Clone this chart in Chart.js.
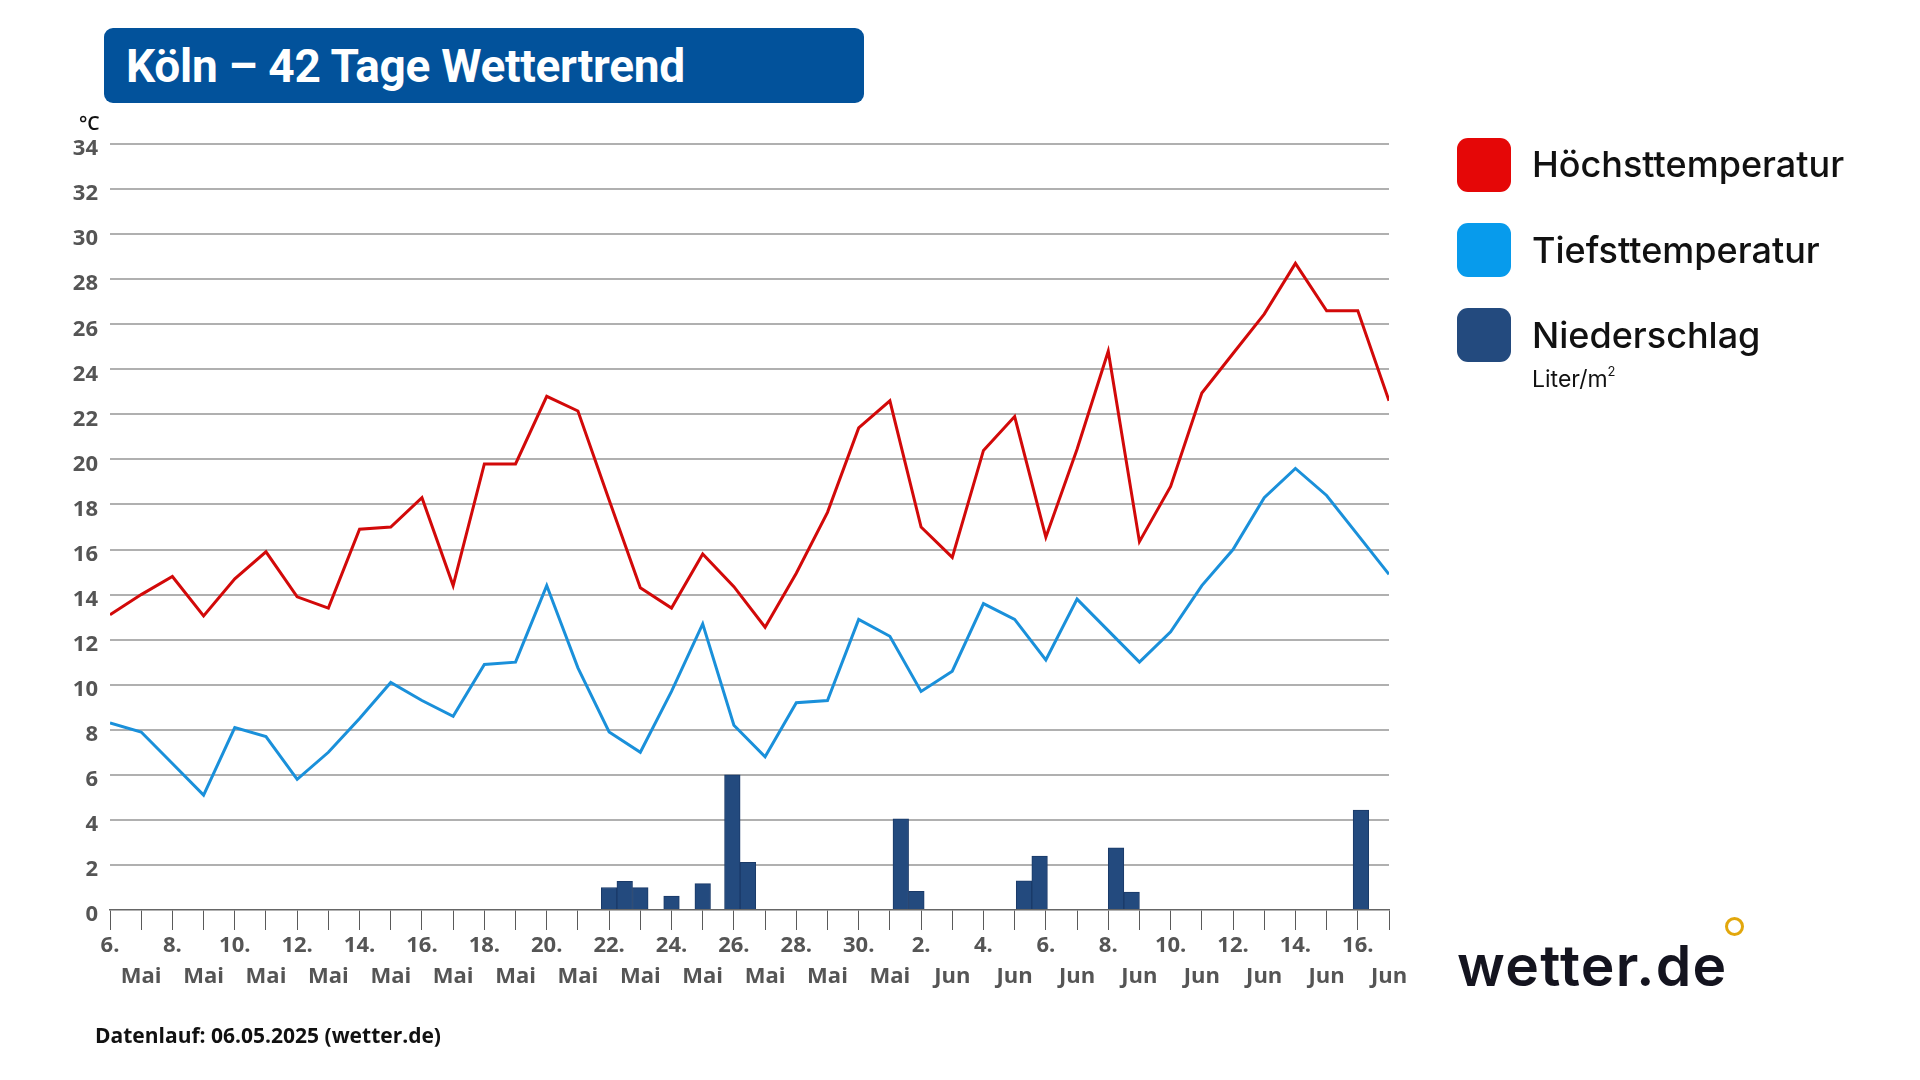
<!DOCTYPE html>
<html><head><meta charset="utf-8">
<script src="https://cdn.jsdelivr.net/npm/chart.js@4.4.1/dist/chart.umd.min.js"></script>
<style>
html,body{margin:0;padding:0;background:#fff;}
#wrap{position:relative;width:1920px;height:1080px;overflow:hidden;background:#fff;}
#c{position:absolute;left:0;top:0;}
.abs{position:absolute;white-space:nowrap;}
#titlebox{left:104px;top:28px;width:760px;height:75px;background:#02529b;border-radius:9px;}
#title{left:126px;top:43px;font:700 46px/46px Roboto,sans-serif;color:#fff;letter-spacing:-0.3px;}
#unit{left:79px;top:113px;font:600 19.5px/19.5px "Open Sans",sans-serif;color:#111;}
.sq{position:absolute;left:1457px;width:54px;height:54px;border-radius:11px;}
.lg{position:absolute;left:1532px;font:500 36px/36px Inter,sans-serif;color:#111;}
#liter{left:1532px;top:362px;font:400 23px/23px Inter,sans-serif;color:#111;}
#liter sup{font-size:13px;position:relative;top:-2px;}
#logo{left:1457px;top:937px;font:600 57px/58px Inter,sans-serif;color:#14141f;letter-spacing:1.3px;}
#ring{left:1725px;top:917px;width:13px;height:13px;border:3.5px solid #e2a70c;border-radius:50%;}
#foot{left:95px;top:1025px;font:700 21px/21px "Open Sans",sans-serif;color:#111;}
</style></head><body>
<div id="wrap">
<canvas id="c" width="1920" height="1080"></canvas>
<div id="titlebox" class="abs"></div>
<div id="title" class="abs">Köln – 42 Tage Wettertrend</div>
<div id="unit" class="abs">°C</div>
<div class="sq" style="top:138px;background:#e50707;"></div>
<div class="sq" style="top:223px;background:#079bec;"></div>
<div class="sq" style="top:308px;background:#234a7e;"></div>
<div class="lg" style="top:146px;">Höchsttemperatur</div>
<div class="lg" style="top:232px;">Tiefsttemperatur</div>
<div class="lg" style="top:317px;">Niederschlag</div>
<div id="liter" class="abs">Liter/m<sup>2</sup></div>
<div id="logo" class="abs">wetter.de</div>
<div id="ring" class="abs"></div>
<div id="foot" class="abs">Datenlauf: 06.05.2025 (wetter.de)</div>
</div>
<script>
// Daily values, 6 May .. 16 Jun (42 days)
const maxTemp = [13.1, 14.0, 14.8, 13.05, 14.7, 15.9, 13.9, 13.4, 16.9, 17.0, 18.3, 14.4, 19.8, 19.8, 22.8, 22.15, 18.2, 14.3, 13.4, 15.8, 14.35, 12.55, 14.95, 17.65, 21.4, 22.6, 17.0, 15.65, 20.4, 21.9, 16.55, 20.45, 24.8, 16.35, 18.8, 22.95, 24.7, 26.45, 28.7, 26.6, 26.6, 22.6];
const minTemp = [8.3, 7.9, 6.5, 5.1, 8.1, 7.7, 5.8, 7.0, 8.5, 10.1, 9.3, 8.6, 10.9, 11.0, 14.4, 10.75, 7.9, 7.0, 9.7, 12.7, 8.2, 6.8, 9.2, 9.3, 12.9, 12.15, 9.7, 10.6, 13.6, 12.9, 11.1, 13.8, 12.4, 11.0, 12.35, 14.4, 16.0, 18.3, 19.6, 18.4, 16.65, 14.9];
// Precipitation: position in days from 6 May, amount in l/m²
const rainPos = [16.0, 16.5, 17.0, 18.0, 19.0, 19.95, 20.45, 25.35, 25.85, 29.3, 29.8, 32.25, 32.75, 40.1];
const rainVal = [1.0, 1.27, 0.99, 0.62, 1.17, 6.0, 2.12, 4.05, 0.83, 1.3, 2.39, 2.76, 0.79, 4.44];
// Tick labels (every other day: number, then month under the next tick)
const dayTickLabels = ['6.','8.','10.','12.','14.','16.','18.','20.','22.','24.','26.','28.','30.','2.','4.','6.','8.','10.','12.','14.','16.'];
const monthTickLabels = ['Mai','Mai','Mai','Mai','Mai','Mai','Mai','Mai','Mai','Mai','Mai','Mai','Mai','Jun','Jun','Jun','Jun','Jun','Jun','Jun','Jun'];
const yTicks = [0, 34, 2];

const tickFont = {family: '"Open Sans", sans-serif', weight: '700', size: 22, lineHeight: '31px'};

new Chart(document.getElementById('c'), {
  type: 'line',
  data: {
    datasets: [
      {
        type: 'line', label: 'Höchsttemperatur',
        data: maxTemp.map((v, i) => ({x: i, y: v})),
        borderColor: '#d20909', borderWidth: 3, pointRadius: 0, tension: 0, fill: false, order: 1
      },
      {
        type: 'line', label: 'Tiefsttemperatur',
        data: minTemp.map((v, i) => ({x: i, y: v})),
        borderColor: '#1a90da', borderWidth: 3, pointRadius: 0, tension: 0, fill: false, order: 1
      },
      {
        type: 'bar', label: 'Niederschlag',
        data: rainPos.map((p, i) => ({x: p, y: rainVal[i]})),
        backgroundColor: '#234a7e', borderColor: '#1a3a68', borderWidth: 1,
        barPercentage: 1, categoryPercentage: 1, order: 2
      }
    ]
  },
  options: {
    responsive: false,
    animation: false,
    devicePixelRatio: 1,
    layout: {padding: {left: 0, top: 144, right: 531, bottom: 80}},
    plugins: {legend: {display: false}, tooltip: {enabled: false}},
    scales: {
      x: {
        type: 'linear', min: 0, max: 41, offset: false,
        afterFit: s => { s.height = 90; },
        ticks: {
          stepSize: 1, maxTicksLimit: 100, autoSkip: false, maxRotation: 0, minRotation: 0,
          padding: 0, color: '#555', font: tickFont,
          callback: v => (v % 2 === 0) ? [dayTickLabels[v / 2], ''] : ['', monthTickLabels[(v - 1) / 2]]
        },
        grid: {drawOnChartArea: false, drawTicks: true, tickLength: 20, tickColor: '#5a5a5a', tickWidth: 1, offset: false},
        border: {display: true, color: '#666', width: 1.5}
      },
      y: {
        min: yTicks[0], max: yTicks[1],
        afterFit: s => { s.width = 110; },
        ticks: {stepSize: yTicks[2], maxTicksLimit: 100, padding: 12, labelOffset: 5, color: '#555', font: tickFont},
        grid: {
          drawTicks: false, lineWidth: 2,
          color: ctx => (ctx.tick && ctx.tick.value === 0) ? 'rgba(0,0,0,0)' : '#b0b0b0'
        },
        border: {display: false}
      }
    }
  }
});
</script>
</body></html>
